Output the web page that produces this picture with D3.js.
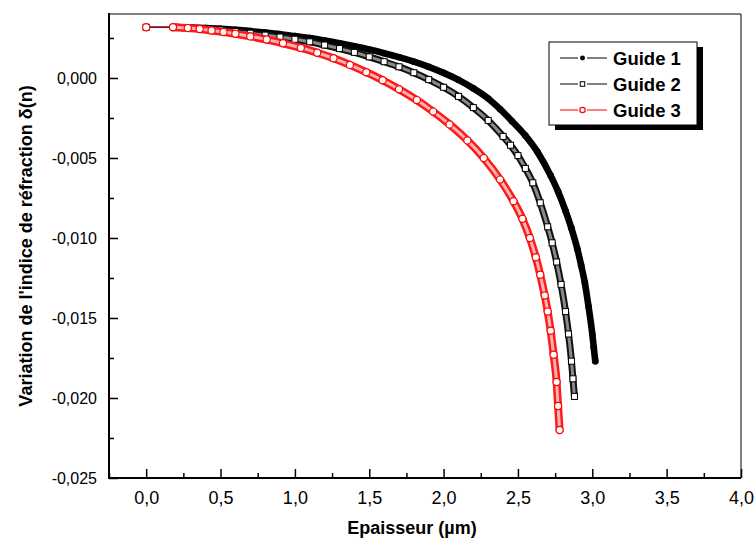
<!DOCTYPE html>
<html><head><meta charset="utf-8">
<script src="https://cdn.jsdelivr.net/npm/d3@7"></script>
<style>body{margin:0;background:#fff}svg{display:block}text{font-family:"Liberation Sans",Arial,sans-serif}</style>
</head><body><svg id="c" width="755" height="541"></svg>
<script>
// thickness (µm) and δ(n) values
const guide1X = [0.00,0.20,0.30,0.40,0.50,0.60,0.70,0.80,0.90,1.00,1.10,1.20,1.30,1.40,1.50,1.60,1.70,1.80,1.90,2.00,2.10,2.20,2.30,2.38,2.46,2.55,2.63,2.72,2.77,2.82,2.86,2.90,2.925,2.95,2.975,3.00,3.01,3.02];
const guide1Y = [0.00317,0.00317,0.00315,0.00312,0.00308,0.00302,0.00293,0.00284,0.00274,0.00262,0.00250,0.00234,0.00217,0.00198,0.00178,0.00155,0.00130,0.00102,0.00070,0.00032,-0.00012,-0.00065,-0.00128,-0.00195,-0.00270,-0.00360,-0.00460,-0.00610,-0.00710,-0.00830,-0.00940,-0.01070,-0.01170,-0.01280,-0.01430,-0.01600,-0.01685,-0.01770];
const guide2X = [0.00,0.20,0.30,0.40,0.50,0.60,0.70,0.80,0.90,1.00,1.10,1.20,1.30,1.40,1.50,1.60,1.70,1.80,1.90,2.00,2.10,2.20,2.30,2.40,2.45,2.50,2.55,2.60,2.65,2.70,2.73,2.76,2.79,2.82,2.84,2.86,2.87,2.88];
const guide2Y = [0.00317,0.00317,0.00312,0.00306,0.00300,0.00290,0.00280,0.00268,0.00256,0.00242,0.00226,0.00206,0.00184,0.00160,0.00132,0.00102,0.00070,0.00033,-0.00010,-0.00058,-0.00115,-0.00185,-0.00265,-0.00365,-0.00420,-0.00485,-0.00565,-0.00655,-0.00780,-0.00930,-0.01030,-0.01150,-0.01290,-0.01460,-0.01600,-0.01770,-0.01880,-0.01990];
const guide3X = [0.00,0.18,0.28,0.36,0.44,0.52,0.60,0.70,0.81,0.92,1.04,1.15,1.26,1.37,1.48,1.59,1.70,1.82,1.93,2.04,2.16,2.27,2.38,2.47,2.53,2.58,2.62,2.65,2.68,2.70,2.72,2.74,2.76,2.77,2.78];
const guide3Y = [0.00317,0.00317,0.00312,0.00306,0.00297,0.00287,0.00276,0.00260,0.00240,0.00217,0.00188,0.00158,0.00123,0.00082,0.00036,-0.00014,-0.00070,-0.00138,-0.00210,-0.00290,-0.00390,-0.00500,-0.00635,-0.00770,-0.00880,-0.01000,-0.01120,-0.01230,-0.01360,-0.01460,-0.01580,-0.01730,-0.01900,-0.02050,-0.02200];
const seriesNames = ["Guide 1","Guide 2","Guide 3"];
const xTicks = [0,0.5,1,1.5,2,2.5,3,3.5,4];
const xMinor = [-0.25,0.25,0.75,1.25,1.75,2.25,2.75,3.25,3.75];
const yTicks = [0,-0.005,-0.01,-0.015,-0.02,-0.025];
const yMinor = [0.0025,-0.0025,-0.0075,-0.0125,-0.0175,-0.0225];

const svg = d3.select("#c");
const L=109, R=741, T=14, B=478;
const x = d3.scaleLinear().domain([-0.25,4.0]).range([L,R]);
const y = d3.scaleLinear().domain([-0.025,0.004]).range([B,T]);
const fmtX = v => d3.format(".1f")(v).replace(".",",");
const fmtY = v => d3.format(".3f")(v).replace(".",",").replace("−","-");

// frame
svg.append("line").attr("x1",L).attr("x2",R).attr("y1",T).attr("y2",T).attr("stroke","#000").attr("stroke-width",1);
svg.append("line").attr("x1",R).attr("x2",R).attr("y1",T).attr("y2",B).attr("stroke","#000").attr("stroke-width",1);

// bottom axis
const gx = svg.append("g").attr("transform",`translate(0,${B})`);
gx.call(d3.axisBottom(x).tickValues(xTicks).tickSize(-9).tickPadding(13).tickFormat(fmtX));
gx.append("g").call(d3.axisBottom(x).tickValues(xMinor).tickSize(-5).tickFormat(""));
gx.selectAll(".domain").remove();
gx.append("line").attr("x1",L-1).attr("x2",R).attr("stroke","#000").attr("stroke-width",2);
gx.selectAll(".tick line").attr("stroke","#000").attr("stroke-width",1.5);
gx.selectAll(".tick text").attr("font-size",18).attr("fill","#000").attr("font-family","Liberation Sans, Arial, sans-serif");

// left axis
const gy = svg.append("g").attr("transform",`translate(${L},0)`);
gy.call(d3.axisLeft(y).tickValues(yTicks).tickSize(-9).tickPadding(12).tickFormat(fmtY));
gy.append("g").call(d3.axisLeft(y).tickValues(yMinor).tickSize(-5).tickFormat(""));
gy.selectAll(".domain").remove();
gy.append("line").attr("y1",T-1).attr("y2",B+1).attr("stroke","#000").attr("stroke-width",2);
gy.selectAll(".tick line").attr("stroke","#000").attr("stroke-width",1.5);
gy.selectAll(".tick text").attr("font-size",16).attr("fill","#000").attr("font-family","Liberation Sans, Arial, sans-serif");

// titles
svg.append("text").attr("x",412).attr("y",534).attr("text-anchor","middle")
  .attr("font-size",18).attr("font-weight","bold").text("Epaisseur (µm)");
svg.append("text").attr("transform",`translate(32,${(T+B)/2}) rotate(-90)`).attr("text-anchor","middle")
  .attr("font-size",18).attr("font-weight","bold").text("Variation de l'indice de réfraction δ(n)");

// series
const series = [
  {name:seriesNames[0], xs:guide1X, ys:guide1Y, color:"#000", band:"#000", inner:null, shape:"dot"},
  {name:seriesNames[1], xs:guide2X, ys:guide2Y, color:"#000", band:"#111", inner:"#8a8a8a", shape:"square"},
  {name:seriesNames[2], xs:guide3X, ys:guide3Y, color:"#ff0000", band:"#ff1a1a", inner:"#ffb4b4", shape:"circle"}
];
const line = d3.line().x(d=>x(d[0])).y(d=>y(d[1])).curve(d3.curveMonotoneX);
function marker(g, shape, color, cx, cy, s){
  if(shape==="dot") g.append("circle").attr("cx",cx).attr("cy",cy).attr("r",3.3*s).attr("fill","#000");
  else if(shape==="square") g.append("rect").attr("x",cx-3*s).attr("y",cy-3*s).attr("width",6*s).attr("height",6*s).attr("fill","#fff").attr("stroke","#000").attr("stroke-width",1);
  else g.append("circle").attr("cx",cx).attr("cy",cy).attr("r",3.6*s).attr("fill","#fff").attr("stroke",color).attr("stroke-width",1.2);
}
series.forEach(s=>{
  const pts = s.xs.map((v,i)=>[v,s.ys[i]]);
  const g = svg.append("g");
  g.append("path").attr("d",line(pts.slice(1))).attr("fill","none").attr("stroke",s.band).attr("stroke-width",s.shape==="circle"?8:(s.shape==="square"?7:6.6)).attr("stroke-linecap","round");
  if(s.inner) g.append("path").attr("d",line(pts.slice(1))).attr("fill","none").attr("stroke",s.inner).attr("stroke-width",3);
  g.append("path").attr("d",line(pts.slice(0,2))).attr("fill","none").attr("stroke",s.shape==="circle"?"#b00000":s.color).attr("stroke-width",1.2);
  pts.forEach(p=>marker(g,s.shape,s.color,x(p[0]),y(p[1]),1));
});

// legend
const lg = svg.append("g");
lg.append("rect").attr("x",555).attr("y",47).attr("width",148).attr("height",83).attr("fill","#000");
lg.append("rect").attr("x",549).attr("y",42).attr("width",148).attr("height",83).attr("fill","#fff").attr("stroke","#000").attr("stroke-width",1);
series.forEach((s,i)=>{
  const cy = 58 + i*26;
  lg.append("line").attr("x1",560).attr("x2",578).attr("y1",cy).attr("y2",cy).attr("stroke",s.color).attr("stroke-width",1);
  lg.append("line").attr("x1",587).attr("x2",607).attr("y1",cy).attr("y2",cy).attr("stroke",s.color).attr("stroke-width",1);
  marker(lg,s.shape,s.color,582.5,cy,0.75);
  lg.append("text").attr("x",613).attr("y",cy+6.5).attr("font-size",18.5).attr("font-weight","bold").text(s.name);
});
</script></body></html>
